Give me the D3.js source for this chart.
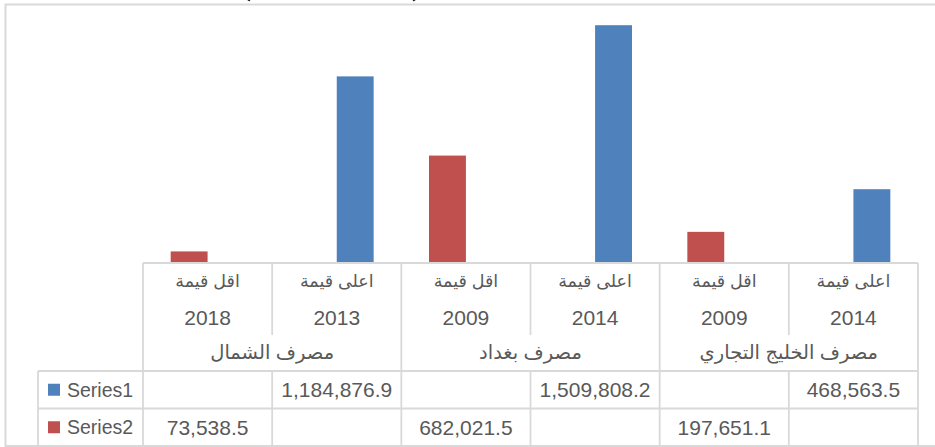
<!DOCTYPE html>
<html>
<head>
<meta charset="utf-8">
<script src="https://cdn.jsdelivr.net/npm/d3@7"></script>
<style>
  html, body { margin: 0; padding: 0; background: #fff; }
  svg { display: block; font-family: "Liberation Sans", "DejaVu Sans", sans-serif; }
</style>
</head>
<body>
<div id="chart"></div>
<script>
// categories, right to left as in the chart
const banks = ["مصرف الخليج التجاري", "مصرف بغداد", "مصرف الشمال"];
const labels = ["اعلى قيمة", "اقل قيمة", "اعلى قيمة", "اقل قيمة", "اعلى قيمة", "اقل قيمة"];
const years = ["2014", "2009", "2014", "2009", "2013", "2018"];
const seriesNames = ["Series1", "Series2"];
const series1 = [468563.5, null, 1509808.2, null, 1184876.9, null];
const series2 = [null, 197651.1, null, 682021.5, null, 73538.5];
const colors = ["#4f81bd", "#c0504d"];

const width = 935, height = 447;
const svg = d3.select("#chart").append("svg").attr("width", width).attr("height", height);

const plotLeft = 143, plotRight = 918, base = 263, plotTop = 11;
const rowY = [263, 299, 335, 371, 408.5, 446];
const legendLeft = 38;
const grey = "#d9d9d9", textCol = "#595959";

const idx = d3.range(labels.length);
const x = d3.scaleBand().domain(idx).range([plotRight, plotLeft]);
const xs = d3.scaleBand().domain(seriesNames).range([x.bandwidth(), 0]).paddingOuter(0.75).paddingInner(0);
const y = d3.scaleLinear().domain([0, 1600000]).range([base, plotTop]);

// cut-off document title above the chart
svg.append("text").attr("x", 247).attr("y", -3).attr("font-family", "Liberation Serif").attr("font-weight", "bold")
  .attr("font-size", 22).attr("fill", "#000").attr("text-anchor", "middle").text("(");
svg.append("text").attr("x", 416).attr("y", -3).attr("font-family", "Liberation Serif").attr("font-weight", "bold")
  .attr("font-size", 22).attr("fill", "#000").attr("text-anchor", "middle").text(")");

// chart border
svg.append("rect").attr("x", 5.5).attr("y", 4.5).attr("width", 940).attr("height", 441.5)
  .attr("fill", "none").attr("stroke", grey).attr("stroke-width", 2);

// bars
const values = [series1, series2];
values.forEach((vals, s) => {
  svg.append("g").selectAll("rect")
    .data(idx.filter((i) => vals[i] != null))
    .join("rect")
    .attr("x", (i) => x(i) + xs(seriesNames[s]))
    .attr("width", xs.bandwidth())
    .attr("y", (i) => y(vals[i]))
    .attr("height", (i) => base - y(vals[i]))
    .attr("fill", colors[s]);
});

// data table grid
const grid = svg.append("g").attr("stroke", grey).attr("stroke-width", 1.8);
const hline = (x1, x2, yy) => grid.append("line").attr("x1", x1).attr("x2", x2).attr("y1", yy).attr("y2", yy);
const vline = (xx, y1, y2) => grid.append("line").attr("x1", xx).attr("x2", xx).attr("y1", y1).attr("y2", y2);
hline(plotLeft, plotRight, rowY[0]);
hline(legendLeft, plotRight, rowY[3]);
hline(legendLeft, plotRight, rowY[4]);
hline(legendLeft, plotRight, rowY[5]);
vline(legendLeft, rowY[3], rowY[5]);
vline(plotLeft, rowY[0], rowY[5]);
idx.forEach((i) => {
  const xx = x(i);
  if (i % 2 === 1) {
    // boundary inside a bank group
    vline(xx + x.bandwidth(), rowY[0], rowY[2]);
    vline(xx + x.bandwidth(), rowY[3], rowY[5]);
  } else {
    vline(xx + x.bandwidth(), rowY[0], rowY[5]);
  }
});

const txt = svg.append("g").attr("fill", textCol).attr("text-anchor", "middle").attr("dominant-baseline", "central");
const cx = (i) => x(i) + x.bandwidth() / 2;

txt.selectAll(".lab").data(idx).join("text").attr("class", "lab")
  .attr("x", cx).attr("y", 281).attr("font-size", 17.5).text((i) => labels[i]);
txt.selectAll(".yr").data(idx).join("text").attr("class", "yr")
  .attr("x", cx).attr("y", 317).attr("font-size", 21).text((i) => years[i]);
txt.selectAll(".bank").data(banks).join("text").attr("class", "bank")
  .attr("x", (d, b) => (x(b * 2) + x(b * 2 + 1) + x.bandwidth()) / 2).attr("y", 352)
  .attr("font-size", 19.5).text((d) => d);

const fmt = d3.format(",.1f");
values.forEach((vals, s) => {
  const ry = (rowY[3 + s] + rowY[4 + s]) / 2;
  txt.append("g").selectAll("text")
    .data(idx.filter((i) => vals[i] != null))
    .join("text")
    .attr("x", cx).attr("y", ry).attr("font-size", 21).text((i) => fmt(vals[i]));
  svg.append("rect").attr("x", 48).attr("y", ry - 6).attr("width", 12).attr("height", 12).attr("fill", colors[s]);
  txt.append("text").attr("x", 67).attr("y", ry).attr("text-anchor", "start").attr("font-size", 19.5).text(seriesNames[s]);
});
</script>
</body>
</html>
